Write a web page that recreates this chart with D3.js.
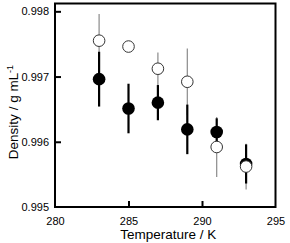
<!DOCTYPE html>
<html>
<head>
<meta charset="utf-8">
<script src="https://cdn.jsdelivr.net/npm/d3@7"></script>
<style>
  body { margin: 0; background: #fff; }
  text { font-family: "Liberation Sans", Arial, sans-serif; }
</style>
</head>
<body>
<script>
var temps = [283, 285, 287, 289, 291, 293];
var filledVals = [0.99696, 0.99651, 0.99660, 0.99619, 0.99615, 0.99566];
var filledErr  = [0.00042, 0.00038, 0.00027, 0.00038, 0.00021, 0.00030];
var openVals   = [0.99755, 0.99746, 0.99712, 0.99692, 0.99592, 0.99562];
var openErr    = [0.00041, 0.00000, 0.00025, 0.00051, 0.00046, 0.00035];
var xTicks = [280, 285, 290, 295];
var yTicks = [0.995, 0.996, 0.997, 0.998];

var width = 290, height = 243;
var plotL = 55, plotR = 275.5, plotT = 3.5, plotB = 207;

var x = d3.scaleLinear().domain([280, 295]).range([plotL, plotR]);
var y = d3.scaleLinear().domain([0.995, 0.99812]).range([plotB, plotT]);

var svg = d3.select("body").append("svg")
    .attr("width", width)
    .attr("height", height);

var filled = temps.map(function(t, i) { return {t: t, v: filledVals[i], e: filledErr[i]}; });
var open = temps.map(function(t, i) { return {t: t, v: openVals[i], e: openErr[i]}; });

// open series error bars (thin grey)
svg.selectAll(".oerr")
    .data(open)
  .enter().append("line")
    .attr("x1", function(d) { return x(d.t); })
    .attr("x2", function(d) { return x(d.t); })
    .attr("y1", function(d) { return y(d.v + d.e); })
    .attr("y2", function(d) { return y(d.v - d.e); })
    .style("stroke", "#8a8a8a")
    .style("stroke-width", 1.2);

// filled series error bars (thick black)
svg.selectAll(".ferr")
    .data(filled)
  .enter().append("line")
    .attr("x1", function(d) { return x(d.t); })
    .attr("x2", function(d) { return x(d.t); })
    .attr("y1", function(d) { return y(d.v + d.e); })
    .attr("y2", function(d) { return y(d.v - d.e); })
    .style("stroke", "#000")
    .style("stroke-width", 2.2);

svg.selectAll(".fdot")
    .data(filled)
  .enter().append("circle")
    .attr("cx", function(d) { return x(d.t); })
    .attr("cy", function(d) { return y(d.v); })
    .attr("r", 6.3)
    .style("fill", "#000");

svg.selectAll(".odot")
    .data(open)
  .enter().append("circle")
    .attr("cx", function(d) { return x(d.t); })
    .attr("cy", function(d) { return y(d.v); })
    .attr("r", 5.8)
    .style("fill", "#fff")
    .style("stroke", "#333")
    .style("stroke-width", 1);

// axes, ticks pointing inward
var xAxis = svg.append("g")
    .attr("transform", "translate(0," + plotB + ")")
    .call(d3.axisBottom(x).tickValues(xTicks).tickSizeInner(-6).tickSizeOuter(0).tickPadding(10).tickFormat(d3.format("d")));
var yAxis = svg.append("g")
    .attr("transform", "translate(" + plotL + ",0)")
    .call(d3.axisLeft(y).tickValues(yTicks).tickSizeInner(-6).tickSizeOuter(0).tickPadding(6).tickFormat(d3.format(".3f")));

[xAxis, yAxis].forEach(function(g) {
  g.select(".domain").remove();
  g.selectAll(".tick line").style("stroke", "#000").style("stroke-width", 2);
  g.selectAll(".tick text").style("font-size", "11px").style("fill", "#000")
      .style("font-family", "'Liberation Sans', Arial, sans-serif");
});
xAxis.selectAll(".tick").filter(function(d) { return d === 280 || d === 295; }).select("line").remove();
yAxis.selectAll(".tick").filter(function(d) { return d === 0.995; }).select("line").remove();

// frame
svg.append("rect")
    .attr("x", plotL)
    .attr("y", plotT)
    .attr("width", plotR - plotL)
    .attr("height", plotB - plotT)
    .style("fill", "none")
    .style("stroke", "#000")
    .style("stroke-width", 2);

svg.append("text")
    .attr("x", (plotL + plotR) / 2 + 3)
    .attr("y", 239)
    .attr("text-anchor", "middle")
    .style("font-size", "13.5px")
    .text("Temperature / K");

var yl = svg.append("text")
    .attr("transform", "translate(18,112) rotate(-90)")
    .attr("text-anchor", "middle")
    .style("font-size", "13.5px");
yl.append("tspan").text("Density / g mL");
yl.append("tspan").attr("dy", -5).style("font-size", "9px").text("-1");
</script>
</body>
</html>
